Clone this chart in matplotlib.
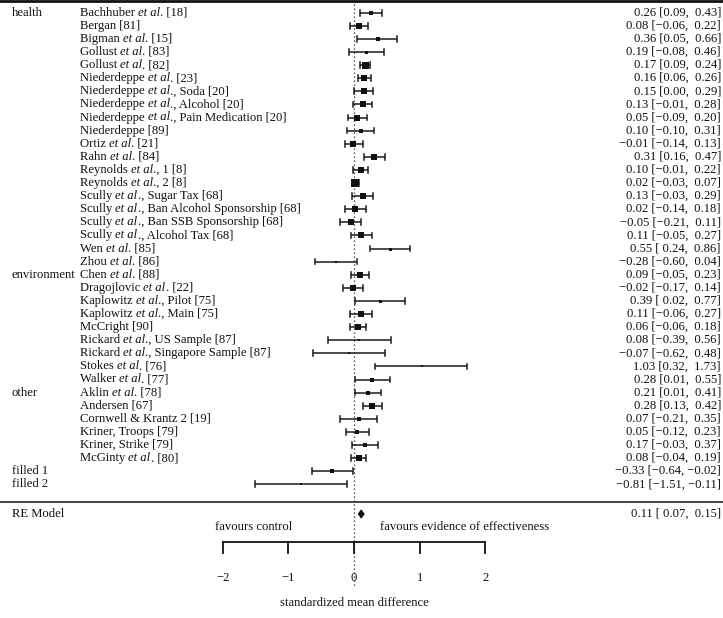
import matplotlib
matplotlib.use("Agg")
import matplotlib.pyplot as plt
from matplotlib.patches import Polygon

plt.rcParams['font.family'] = ['Liberation Serif', 'DejaVu Serif']

groups = ["health"] + [""] * 19 + ["environment"] + [""] * 8 + ["other"] + [""] * 5 + ["filled 1", "filled 2"]
studies = [
    "Bachhuber et al. [18]", "Bergan [81]", "Bigman et al. [15]", "Gollust et al. [83]",
    "Gollust et al. [82]", "Niederdeppe et al. [23]", "Niederdeppe et al., Soda [20]",
    "Niederdeppe et al., Alcohol [20]", "Niederdeppe et al., Pain Medication [20]",
    "Niederdeppe [89]", "Ortiz et al. [21]", "Rahn et al. [84]", "Reynolds et al., 1 [8]",
    "Reynolds et al., 2 [8]", "Scully et al., Sugar Tax [68]",
    "Scully et al., Ban Alcohol Sponsorship [68]", "Scully et al., Ban SSB Sponsorship [68]",
    "Scully et al., Alcohol Tax [68]", "Wen et al. [85]", "Zhou et al. [86]",
    "Chen et al. [88]", "Dragojlovic et al. [22]", "Kaplowitz et al., Pilot [75]",
    "Kaplowitz et al., Main [75]", "McCright [90]", "Rickard et al., US Sample [87]",
    "Rickard et al., Singapore Sample [87]", "Stokes et al. [76]", "Walker et al. [77]",
    "Aklin et al. [78]", "Andersen [67]", "Cornwell & Krantz 2 [19]", "Kriner, Troops [79]",
    "Kriner, Strike [79]", "McGinty et al. [80]", "", "",
]
est = [0.26, 0.08, 0.36, 0.19, 0.17, 0.16, 0.15, 0.13, 0.05, 0.10, -0.01, 0.31, 0.10, 0.02,
       0.13, 0.02, -0.05, 0.11, 0.55, -0.28, 0.09, -0.02, 0.39, 0.11, 0.06, 0.08, -0.07, 1.03,
       0.28, 0.21, 0.28, 0.07, 0.05, 0.17, 0.08, -0.33, -0.81]
lo = [0.09, -0.06, 0.05, -0.08, 0.09, 0.06, 0.00, -0.01, -0.09, -0.10, -0.14, 0.16, -0.01, -0.03,
      -0.03, -0.14, -0.21, -0.05, 0.24, -0.60, -0.05, -0.17, 0.02, -0.06, -0.06, -0.39, -0.62, 0.32,
      0.01, 0.01, 0.13, -0.21, -0.12, -0.03, -0.04, -0.64, -1.51]
hi = [0.43, 0.22, 0.66, 0.46, 0.24, 0.26, 0.29, 0.28, 0.20, 0.31, 0.13, 0.47, 0.22, 0.07,
      0.29, 0.18, 0.11, 0.27, 0.86, 0.04, 0.23, 0.14, 0.77, 0.27, 0.18, 0.56, 0.48, 1.73,
      0.55, 0.41, 0.42, 0.35, 0.23, 0.37, 0.19, -0.02, -0.11]
# marker side length in pixels
box_px = [4.8, 5.5, 3.3, 3.0, 7.0, 6.2, 5.2, 5.2, 5.2, 4.4, 5.5, 5.2, 6.2, 8.0, 5.2, 5.2, 5.2,
          5.5, 3.0, 2.7, 5.5, 5.5, 3.0, 5.2, 6.2, 2.5, 2.5, 2.5, 3.3, 4.4, 5.9, 3.3, 4.8, 4.4,
          5.9, 3.3, 2.5]
ci_strings = [
    "0.26 [0.09,  0.43]", "0.08 [\u22120.06,  0.22]", "0.36 [0.05,  0.66]", "0.19 [\u22120.08,  0.46]",
    "0.17 [0.09,  0.24]", "0.16 [0.06,  0.26]", "0.15 [0.00,  0.29]", "0.13 [\u22120.01,  0.28]",
    "0.05 [\u22120.09,  0.20]", "0.10 [\u22120.10,  0.31]", "\u22120.01 [\u22120.14,  0.13]",
    "0.31 [0.16,  0.47]", "0.10 [\u22120.01,  0.22]", "0.02 [\u22120.03,  0.07]",
    "0.13 [\u22120.03,  0.29]", "0.02 [\u22120.14,  0.18]", "\u22120.05 [\u22120.21,  0.11]",
    "0.11 [\u22120.05,  0.27]", "0.55 [ 0.24,  0.86]", "\u22120.28 [\u22120.60,  0.04]",
    "0.09 [\u22120.05,  0.23]", "\u22120.02 [\u22120.17,  0.14]", "0.39 [ 0.02,  0.77]",
    "0.11 [\u22120.06,  0.27]", "0.06 [\u22120.06,  0.18]", "0.08 [\u22120.39,  0.56]",
    "\u22120.07 [\u22120.62,  0.48]", "1.03 [0.32,  1.73]", "0.28 [0.01,  0.55]",
    "0.21 [0.01,  0.41]", "0.28 [0.13,  0.42]", "0.07 [\u22120.21,  0.35]",
    "0.05 [\u22120.12,  0.23]", "0.17 [\u22120.03,  0.37]", "0.08 [\u22120.04,  0.19]",
    "\u22120.33 [\u22120.64, \u22120.02]", "\u22120.81 [\u22121.51, \u22120.11]",
]
re_est, re_lo, re_hi = 0.11, 0.07, 0.15
re_string = "0.11 [ 0.07,  0.15]"
ticks = [-2, -1, 0, 1, 2]
tick_labels = ["\u22122", "\u22121", "0", "1", "2"]

W, H, DPI = 723, 618, 100
fig = plt.figure(figsize=(W / DPI, H / DPI), dpi=DPI)
ax = fig.add_axes([0, 0, 1, 1])
ax.set_axis_off()

x0_px, unit_px = 354.0, 65.6
row0_px, row_px = 12.7, 13.1
ax.set_xlim(-x0_px / unit_px, (W - x0_px) / unit_px)
ax.set_ylim((H - row0_px) / row_px, -row0_px / row_px)
renderer = fig.canvas.get_renderer()


def px2x(p):
    return (p - x0_px) / unit_px


def py2y(p):
    return (p - row0_px) / row_px


fs = 9.1
tc = '#111111'
lc = '#1a1a1a'


def mixed_text(x_px, y, label):
    if "et al" in label:
        a, b = label.split("et al", 1)
        parts = [(a, 'normal'), ("et al", 'italic'), (b, 'normal')]
    else:
        parts = [(label, 'normal')]
    cur = x_px
    for txt, style in parts:
        if not txt:
            continue
        t = ax.text(px2x(cur), y, txt, ha='left', va='center', fontsize=fs, style=style, color=tc)
        bb = t.get_window_extent(renderer=renderer)
        cur += bb.width


n = len(est)
cap = 0.22
for i in range(n):
    ax.plot([lo[i], hi[i]], [i, i], color=lc, lw=1.1, solid_capstyle='butt')
    ax.plot([lo[i], lo[i]], [i - cap, i + cap], color=lc, lw=1.1)
    ax.plot([hi[i], hi[i]], [i - cap, i + cap], color=lc, lw=1.1)
    s = (box_px[i] * 0.72) ** 2
    ax.scatter([est[i]], [i], marker='s', s=s, color='#111111', linewidths=0, zorder=3)
    if groups[i]:
        ax.text(px2x(12), i, groups[i], ha='left', va='center', fontsize=fs, color=tc)
    if studies[i]:
        mixed_text(80, i, studies[i])
    ax.text(px2x(721), i, ci_strings[i], ha='right', va='center', fontsize=fs, color=tc)

# top and separator lines
ax.plot([px2x(0), px2x(W)], [py2y(1), py2y(1)], color='#111111', lw=2.0)
ax.plot([px2x(0), px2x(W)], [py2y(502), py2y(502)], color='#444444', lw=1.4)

# RE model
re_y = py2y(514)
dh = 3.8 / row_px
ax.add_patch(Polygon([[re_lo, re_y], [re_est, re_y - dh], [re_hi, re_y], [re_est, re_y + dh]],
                     closed=True, color='#111111', zorder=3))
ax.text(px2x(12), re_y, "RE Model", ha='left', va='center', fontsize=fs, color=tc)
ax.text(px2x(721), re_y, re_string, ha='right', va='center', fontsize=fs, color=tc)

# dotted reference line
ax.plot([0, 0], [py2y(0), py2y(588)], color='#222222', lw=0.9, ls=(0, (1, 2.2)))

# favours text
ax.text(px2x(292), py2y(527), "favours control", ha='right', va='center', fontsize=fs, color=tc)
ax.text(px2x(380), py2y(527), "favours evidence of effectiveness", ha='left', va='center',
        fontsize=fs, color=tc)

# axis
ay = py2y(542)
ty = py2y(553)
ax.plot([ticks[0], ticks[-1]], [ay, ay], color='#111111', lw=1.3)
for t, tl in zip(ticks, tick_labels):
    ax.plot([t, t], [ay, ty], color='#111111', lw=1.3)
    ax.text(t, py2y(578), tl, ha='center', va='center', fontsize=fs, color=tc)
ax.text(0, py2y(603), "standardized mean difference", ha='center', va='center', fontsize=fs, color=tc)

fig.savefig("out.png", dpi=DPI)
